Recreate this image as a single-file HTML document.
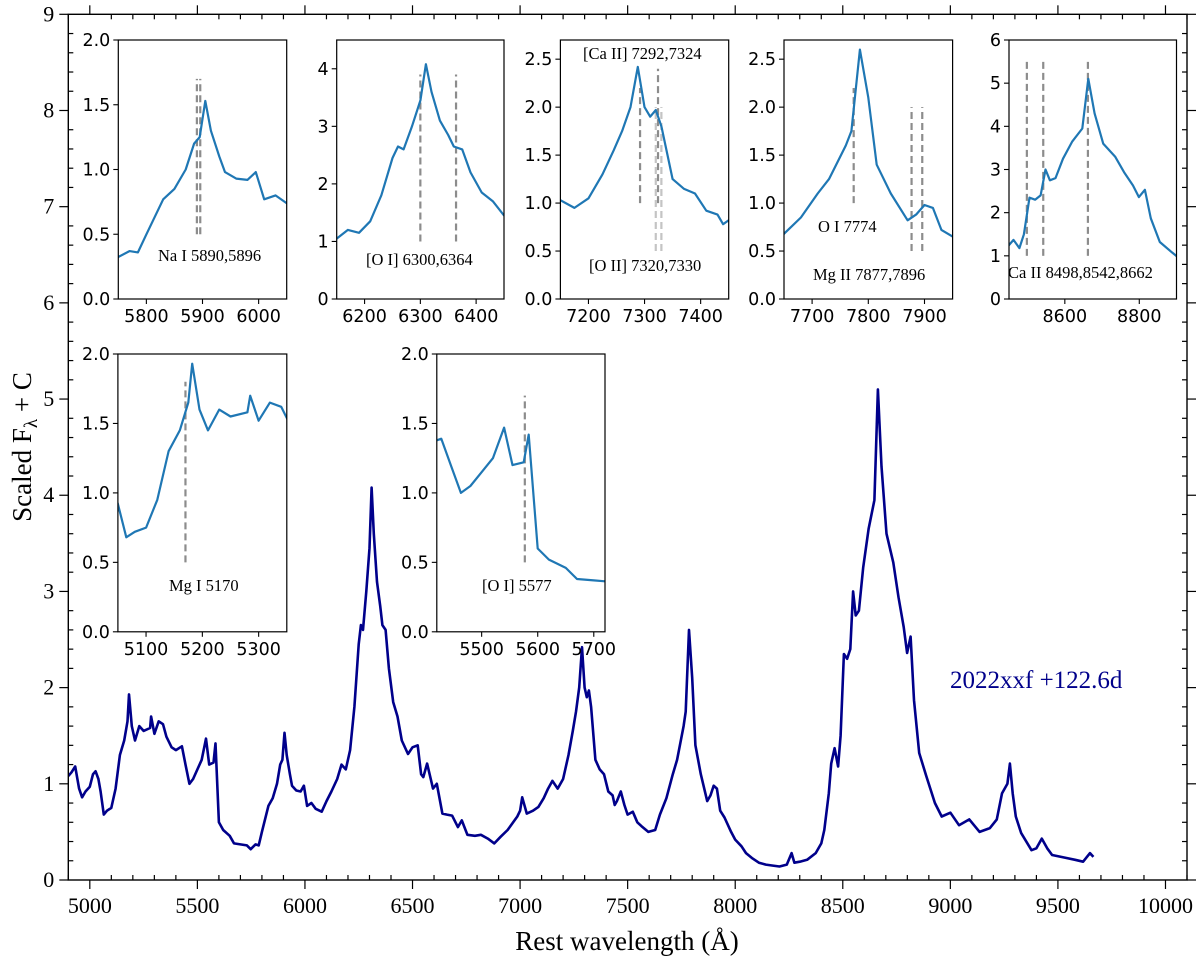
<!DOCTYPE html>
<html><head><meta charset="utf-8">
<style>
html,body{margin:0;padding:0;background:#fff;}
svg{display:block;}
</style></head>
<body>
<svg id="chart" width="1200" height="965" viewBox="0 0 1200 965" xmlns="http://www.w3.org/2000/svg"></svg>
<script>
// Spectrum data (rest wavelength in Angstrom, scaled flux)
const wavelengths = [4900,4915,4932,4950,4964,4980,5000,5015,5027,5040,5050,5065,5080,5100,5120,5140,5160,5175,5182,5195,5210,5230,5250,5280,5285,5300,5320,5340,5356,5380,5400,5428,5445,5463,5480,5500,5520,5540,5555,5575,5584,5600,5620,5650,5670,5700,5730,5748,5770,5785,5800,5830,5850,5870,5885,5895,5905,5915,5930,5940,5960,5980,5995,6010,6030,6050,6078,6100,6123,6150,6170,6190,6210,6230,6250,6260,6270,6285,6300,6310,6320,6335,6350,6360,6375,6390,6410,6430,6450,6479,6500,6524,6540,6550,6568,6595,6613,6639,6660,6684,6711,6729,6755,6790,6818,6850,6880,6910,6942,6987,7000,7010,7031,7060,7085,7110,7130,7150,7175,7200,7225,7245,7260,7275,7288,7300,7310,7320,7330,7350,7370,7390,7410,7430,7440,7450,7468,7485,7500,7524,7545,7564,7596,7628,7650,7680,7710,7730,7760,7770,7785,7800,7815,7840,7870,7885,7900,7915,7930,7950,7981,8000,8029,8050,8077,8110,8142,8175,8206,8240,8262,8275,8300,8334,8374,8400,8414,8435,8446,8462,8478,8490,8505,8520,8535,8548,8560,8575,8595,8620,8647,8663,8680,8703,8735,8759,8783,8799,8815,8831,8855,8888,8928,8960,9000,9040,9088,9136,9184,9216,9240,9265,9277,9290,9304,9329,9377,9400,9425,9450,9473,9537,9580,9617,9649,9665];
const fluxes = [1.08,1.12,1.18,0.95,0.86,0.92,0.97,1.10,1.13,1.05,0.92,0.68,0.72,0.75,0.95,1.30,1.45,1.65,1.93,1.60,1.45,1.60,1.55,1.58,1.70,1.52,1.65,1.62,1.49,1.38,1.35,1.39,1.20,1.00,1.05,1.15,1.25,1.47,1.20,1.22,1.42,0.60,0.52,0.46,0.38,0.37,0.36,0.32,0.37,0.36,0.50,0.77,0.85,1.00,1.20,1.25,1.53,1.30,1.10,0.98,0.93,0.92,0.98,0.77,0.80,0.74,0.71,0.82,0.92,1.05,1.20,1.15,1.35,1.80,2.45,2.65,2.60,3.00,3.45,4.08,3.60,3.10,2.85,2.65,2.60,2.20,1.85,1.70,1.45,1.31,1.38,1.40,1.10,1.07,1.21,0.95,1.00,0.69,0.68,0.67,0.55,0.62,0.47,0.46,0.47,0.43,0.38,0.45,0.52,0.66,0.72,0.86,0.69,0.72,0.76,0.85,0.95,1.03,0.95,1.05,1.30,1.55,1.75,2.00,2.42,2.00,1.90,1.97,1.80,1.25,1.15,1.10,0.92,0.88,0.78,0.82,0.92,0.78,0.68,0.71,0.60,0.56,0.50,0.52,0.68,0.85,1.10,1.25,1.60,1.75,2.60,2.10,1.40,1.10,0.82,0.88,0.98,0.95,0.72,0.65,0.50,0.42,0.35,0.28,0.23,0.18,0.16,0.15,0.14,0.16,0.28,0.18,0.19,0.21,0.28,0.38,0.52,0.90,1.21,1.37,1.18,1.50,2.35,2.30,2.40,3.00,2.75,2.80,3.25,3.65,3.95,5.10,4.30,3.60,3.30,2.94,2.63,2.36,2.53,1.87,1.32,1.08,0.80,0.66,0.70,0.57,0.63,0.50,0.54,0.63,0.90,1.00,1.21,0.90,0.66,0.49,0.31,0.33,0.43,0.33,0.26,0.23,0.21,0.19,0.28,0.24];
const mainXTicks = [5000,5500,6000,6500,7000,7500,8000,8500,9000,9500,10000];
const mainYTicks = [0,1,2,3,4,5,6,7,8,9];
const insetXLims = [[5750,6050],[6150,6450],[7150,7450],[7650,7950],[8450,8900],[5050,5350],[5420,5720]];
const insetYLims = [[0,2.0],[0,4.5],[0,2.7],[0,2.7],[0,6],[0,2.0],[0,2.0]];
const insetXTicks = [[5800,5900,6000],[6200,6300,6400],[7200,7300,7400],[7700,7800,7900],[8600,8800],[5100,5200,5300],[5500,5600,5700]];
const insetYTicks = [[0,0.5,1.0,1.5,2.0],[0,1,2,3,4],[0,0.5,1.0,1.5,2.0,2.5],[0,0.5,1.0,1.5,2.0,2.5],[0,1,2,3,4,5,6],[0,0.5,1.0,1.5,2.0],[0,0.5,1.0,1.5,2.0]];
const insetYTickLabels = [["0.0","0.5","1.0","1.5","2.0"],["0","1","2","3","4"],["0.0","0.5","1.0","1.5","2.0","2.5"],["0.0","0.5","1.0","1.5","2.0","2.5"],["0","1","2","3","4","5","6"],["0.0","0.5","1.0","1.5","2.0"],["0.0","0.5","1.0","1.5","2.0"]];
const lineMarkWave = [5890,5896,6300,6364,7292,7324,7320,7330,7774,7877,7896,8498,8542,8662,5170,5577];
const lineMarkInset = [0,0,1,1,2,2,2,2,3,3,3,4,4,4,5,6];
const lineMarkYMin = [0.5,0.5,1.0,1.0,1.0,1.0,0.5,0.5,1.0,0.5,0.5,1.0,1.0,1.0,0.5,0.5];
const lineMarkYMax = [1.7,1.7,3.9,3.9,2.2,2.4,2.0,2.0,2.2,2.0,2.0,5.5,5.5,5.5,1.8,1.7];
const lineMarkLight = [0,0,0,0,0,0,1,1,0,0,0,0,0,0,0,0];

const NS="http://www.w3.org/2000/svg";
const svg=document.getElementById('chart');
function el(tag,attrs,parent){const e=document.createElementNS(NS,tag);for(const k in attrs)e.setAttribute(k,attrs[k]);(parent||svg).appendChild(e);return e;}

const M={l:68.3,r:1187,t:14.3,b:880,x0:4900,x1:10100,y0:0,y1:9};
const mx=v=>M.l+(v-M.x0)/(M.x1-M.x0)*(M.r-M.l);
const my=v=>M.b-(v-M.y0)/(M.y1-M.y0)*(M.b-M.t);

const mcp=el('clipPath',{id:'mainclip'});
el('rect',{x:M.l,y:M.t,width:M.r-M.l,height:M.b-M.t},mcp);

let d='';wavelengths.forEach((w,i)=>{d+=(i?'L':'M')+mx(w).toFixed(1)+','+my(fluxes[i]).toFixed(1);});
const mainLine=el('path',{d:d,fill:'none',stroke:'#00008b','stroke-width':2.6,'stroke-linejoin':'round','clip-path':'url(#mainclip)'});



const frame=el('rect',{x:M.l,y:M.t,width:M.r-M.l,height:M.b-M.t,fill:'none',stroke:'#000','stroke-width':1.4});



const tg=el('g',{stroke:'#000','stroke-width':1.2});


for(let v=4900;v<=10100;v+=100){const x=mx(v);
  if(v%500===0){el('line',{x1:x,y1:M.b,x2:x,y2:M.b+9},tg);el('line',{x1:x,y1:M.t,x2:x,y2:M.t-9},tg);}
  else{el('line',{x1:x,y1:M.b,x2:x,y2:M.b-5},tg);el('line',{x1:x,y1:M.t,x2:x,y2:M.t+5},tg);}
}
for(let k=0;k<=45;k++){const v=k*0.2;const y=my(v);
  if(k%5===0){el('line',{x1:M.l,y1:y,x2:M.l-9,y2:y},tg);el('line',{x1:M.r,y1:y,x2:M.r+9,y2:y},tg);}
  else{el('line',{x1:M.l,y1:y,x2:M.l+5,y2:y},tg);el('line',{x1:M.r,y1:y,x2:M.r-5,y2:y},tg);}
}
mainXTicks.forEach(v=>{const t=el('text',{x:mx(v),y:M.b+33,'text-anchor':'middle','font-family':'Liberation Serif, serif','font-size':22,fill:'#000'});t.textContent=v;
  
  });
mainYTicks.forEach(v=>{const t=el('text',{x:M.l-14,y:my(v)+7,'text-anchor':'end','font-family':'Liberation Serif, serif','font-size':22,fill:'#000'});t.textContent=v;
  
  });

const xt=el('text',{x:627,y:950,'text-anchor':'middle','font-family':'Liberation Serif, serif','font-size':27,fill:'#000'});
xt.textContent='Rest wavelength (Å)';


const yt=el('text',{x:0,y:0,transform:'translate(31,447) rotate(-90)','text-anchor':'middle','font-family':'Liberation Serif, serif','font-size':27,fill:'#000'});
yt.innerHTML='Scaled F<tspan font-size="19" dy="6">λ</tspan><tspan dy="-6"> + C</tspan>';


const lab=el('text',{x:950,y:688,'font-family':'Liberation Serif, serif','font-size':25,fill:'#00008b'});
lab.textContent='2022xxf +122.6d';



const insetBoxes=[[118.3,40,286.7,299],[336.7,40,504,299],[560.4,40,728.7,299],[784,40,952.6,299],[1009,40,1176.5,299],[117.9,354,286.8,631.8],[436.8,354,605,631.8]];
const insetLabels=[
 [['Na I 5890,5896',158,261]],
 [['[O I] 6300,6364',366,265]],
 [['[Ca II] 7292,7324',583,59],['[O II] 7320,7330',589,271]],
 [['O I 7774',818,232],['Mg II 7877,7896',813,280]],
 [['Ca II 8498,8542,8662',1008,278]],
 [['Mg I 5170',169,591]],
 [['[O I] 5577',482,591]]];
const insetNames=['inset-na-i','inset-o-i-6300','inset-ca-ii-7300','inset-o-i-7774','inset-ca-ii-triplet','inset-mg-i','inset-o-i-5577'];
insetBoxes.forEach((b,i)=>{
  const [L,T,R,B]=b;const [xa,xb]=insetXLims[i];const [ya,yb]=insetYLims[i];
  const ix=v=>L+(v-xa)/(xb-xa)*(R-L);const iy=v=>B-(v-ya)/(yb-ya)*(B-T);
  const g=el('g',{});
  
  
  el('rect',{x:L,y:T,width:R-L,height:B-T,fill:'#fff'},g);
  const cp=el('clipPath',{id:'ic'+i},g);el('rect',{x:L,y:T,width:R-L,height:B-T},cp);
  lineMarkWave.forEach((w,k)=>{if(lineMarkInset[k]!==i)return;
    const ln=el('line',{x1:ix(w),x2:ix(w),y1:iy(lineMarkYMin[k]),y2:iy(lineMarkYMax[k]),stroke:lineMarkLight[k]?'#c4c4c4':'#8c8c8c','stroke-width':2.2,'stroke-dasharray':'7,4'},g);
    
    });
  let p='';
  wavelengths.forEach((w,k)=>{p+=(k?'L':'M')+ix(w).toFixed(1)+','+iy(fluxes[k]).toFixed(1);});
  const il=el('path',{d:p,fill:'none',stroke:'#1f77b4','stroke-width':2.2,'stroke-linejoin':'round','clip-path':'url(#ic'+i+')'},g);
  
  
  el('rect',{x:L,y:T,width:R-L,height:B-T,fill:'none',stroke:'#000','stroke-width':1.2},g);
  insetXTicks[i].forEach(v=>{el('line',{x1:ix(v),x2:ix(v),y1:B,y2:B+5,stroke:'#000','stroke-width':1.1},g);
    const t=el('text',{x:ix(v),y:B+23,'text-anchor':'middle','font-family':'DejaVu Sans, sans-serif','font-size':17.5,fill:'#000'},g);t.textContent=v;
    
    });
  insetYTicks[i].forEach((v,k)=>{el('line',{x1:L,x2:L-5,y1:iy(v),y2:iy(v),stroke:'#000','stroke-width':1.1},g);
    const t=el('text',{x:L-8,y:iy(v)+6,'text-anchor':'end','font-family':'DejaVu Sans, sans-serif','font-size':17.5,fill:'#000'},g);t.textContent=insetYTickLabels[i][k];
    
    });
  insetLabels[i].forEach(a=>{const t=el('text',{x:a[1],y:a[2],'font-family':'Liberation Serif, serif','font-size':16.5,fill:'#000'},g);t.textContent=a[0];
    
    });
});
</script>
</body></html>
